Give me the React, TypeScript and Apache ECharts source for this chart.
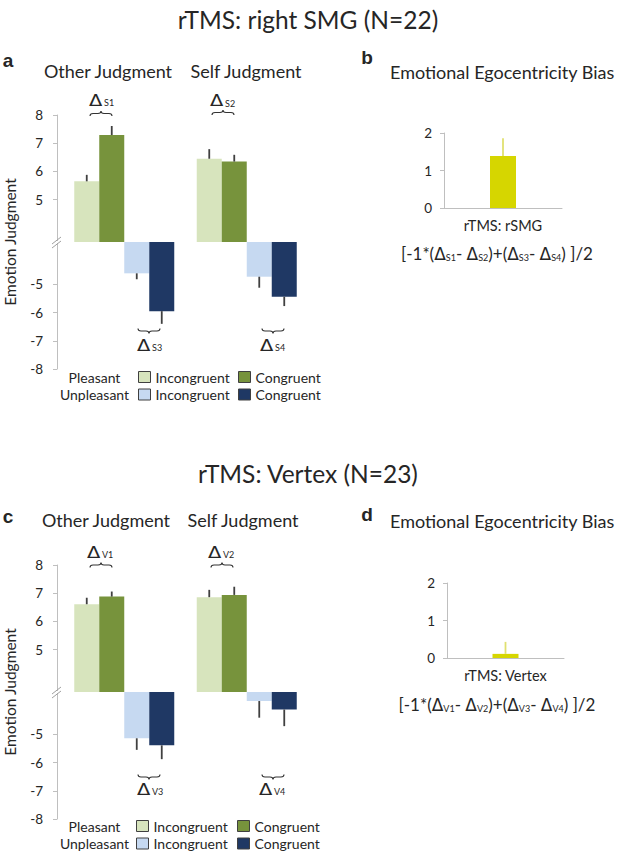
import React, { useEffect, useRef } from 'react';
import * as echarts from 'echarts';

// ---------- data ----------
const judgments = ['Other Judgment', 'Self Judgment'];
const conditions = ['Pleasant Incongruent', 'Pleasant Congruent', 'Unpleasant Incongruent', 'Unpleasant Congruent'];

// panel a: rTMS right SMG (N=22)
const smgPleasantIncongruent = [5.65, 6.45];
const smgPleasantCongruent = [7.29, 6.35];
const smgUnpleasantIncongruent = [-4.61, -4.73];
const smgUnpleasantCongruent = [-5.95, -5.44];
const smgPleasantIncongruentErr = [0.23, 0.34];
const smgPleasantCongruentErr = [0.32, 0.24];
const smgUnpleasantIncongruentErr = [0.21, 0.39];
const smgUnpleasantCongruentErr = [0.45, 0.33];

// panel c: rTMS Vertex (N=23)
const vtxPleasantIncongruent = [6.61, 6.86];
const vtxPleasantCongruent = [6.88, 6.94];
const vtxUnpleasantIncongruent = [-5.14, -3.82];
const vtxUnpleasantCongruent = [-5.39, -4.12];
const vtxPleasantIncongruentErr = [0.23, 0.26];
const vtxPleasantCongruentErr = [0.18, 0.29];
const vtxUnpleasantIncongruentErr = [0.41, 0.59];
const vtxUnpleasantCongruentErr = [0.49, 0.59];

// panels b / d: emotional egocentricity bias
const biasSmgCategory = ['rTMS: rSMG'];
const biasSmg = [1.39];
const biasSmgErr = [0.47];
const biasVtxCategory = ['rTMS: Vertex'];
const biasVtx = [0.11];
const biasVtxErr = [0.32];

// tick labels
const posTicks = [5, 6, 7, 8];
const negTicks = [-5, -6, -7, -8];
const biasTicks = [0, 1, 2];

// ---------- helpers ----------
const BREAK = 3.5; // axis is broken between -BREAK and +BREAK
const tf = (v: number) => (v > 0 ? v - BREAK : v + BREAK);
const untf = (v: number) => Math.round(v > 0 ? v + BREAK : v - BREAK);

const FONT = 'Lato, "Open Sans", sans-serif';
const TEXT = '#262626';
const AXIS = '#bfbfbf';
const ERR = '#404040';
const COLORS = ['#d7e4bd', '#77933c', '#c6d9f1', '#1f3864'];
const YELLOW = '#d6d600';
const YELLOW_ERR = '#e0e070';

const braceUpD = 'M0 5 Q0 2.5 3 2.5 L8 2.5 Q11 2.5 11 0 Q11 2.5 14 2.5 L19 2.5 Q22 2.5 22 5';
const braceDownD = 'M0 0 Q0 2.5 3 2.5 L8 2.5 Q11 2.5 11 5 Q11 2.5 14 2.5 L19 2.5 Q22 2.5 22 0';
echarts.graphic.registerShape('braceUp', echarts.graphic.extendPath(braceUpD, {}));
echarts.graphic.registerShape('braceDown', echarts.graphic.extendPath(braceDownD, {}));

function txt(x: number, y: number, text: string, size: number, align = 'left', extra: any = {}) {
  return {
    type: 'text', x, y, z: 20,
    style: {
      text, fontFamily: FONT, fontSize: size, fill: TEXT,
      align, textAlign: align, verticalAlign: 'middle', textVerticalAlign: 'middle',
      ...extra,
    },
  };
}

function delta(x: number, yc: number, sub: string) {
  return [
    {
      type: 'text', x, y: yc, scaleX: 1.3, z: 20,
      style: { text: 'Δ', fontFamily: 'DejaVu Sans', fontSize: 15, fill: TEXT, align: 'left', textAlign: 'left', verticalAlign: 'middle', textVerticalAlign: 'middle' },
    },
    txt(x + 15, yc + 2, sub, 9),
  ];
}

function brace(kind: 'braceUp' | 'braceDown', x: number, y: number) {
  return { type: kind, x, y, z: 20, style: { fill: 'none', stroke: '#333', lineWidth: 1.1 } };
}

function breakMark(y: number) {
  return [
    { type: 'rect', z: 30, shape: { x: 54, y: y - 1, width: 5, height: 2 }, style: { fill: '#fff' } },
    { type: 'line', z: 31, shape: { x1: 52, y1: y + 2, x2: 61, y2: y - 5 }, style: { stroke: '#a0a0a0', lineWidth: 1 } },
    { type: 'line', z: 31, shape: { x1: 52, y1: y + 6, x2: 61, y2: y - 1 }, style: { stroke: '#a0a0a0', lineWidth: 1 } },
  ];
}

function formula(cx: number, y: number, L: string) {
  const t = `{n|[-1*(}{d|Δ}{s|${L}1}{n|- }{d|Δ}{s|${L}2}{n|)+(}{d|Δ}{s|${L}3}{n|- }{d|Δ}{s|${L}4}{n|) ]/2}`;
  return {
    type: 'text', x: cx, y, z: 20,
    style: {
      text: t, align: 'center', textAlign: 'center', verticalAlign: 'middle', textVerticalAlign: 'middle',
      rich: {
        n: { fontFamily: FONT, fontSize: 17, fill: TEXT, verticalAlign: 'bottom', lineHeight: 20 },
        d: { fontFamily: 'DejaVu Sans', fontSize: 17, fill: TEXT, verticalAlign: 'bottom', lineHeight: 20 },
        s: { fontFamily: FONT, fontSize: 9, fill: TEXT, verticalAlign: 'bottom', lineHeight: 16 },
      },
    },
  };
}

function brokenSeries(prefix: string, gi: number, vals: number[][], errs: number[][]) {
  const out: any[] = [];
  vals.forEach((arr, i) => {
    out.push({
      type: 'bar', name: `${prefix} ${conditions[i]}`, xAxisIndex: gi, yAxisIndex: gi,
      barWidth: 25, barGap: '0%', itemStyle: { color: COLORS[i] },
      data: arr.map(tf),
    });
  });
  vals.forEach((arr, i) => {
    const offset = (i - 1.5) * 25;
    out.push({
      type: 'custom', name: `${prefix} err ${i}`, xAxisIndex: gi, yAxisIndex: gi, silent: true, z: 3,
      data: arr.map((v, j) => [j, tf(v), tf(v > 0 ? v + errs[i][j] : v - errs[i][j])]),
      encode: { x: 0, y: [1, 2] },
      renderItem: (params: any, api: any) => {
        const a = api.coord([api.value(0), api.value(1)]);
        const b = api.coord([api.value(0), api.value(2)]);
        return { type: 'line', shape: { x1: a[0] + offset, y1: a[1], x2: a[0] + offset, y2: b[1] }, style: { stroke: ERR, lineWidth: 1.8 } };
      },
    });
  });
  return out;
}

function biasSeries(name: string, gi: number, vals: number[], errs: number[]) {
  return [
    { type: 'bar', name, xAxisIndex: gi, yAxisIndex: gi, barWidth: 26, itemStyle: { color: YELLOW }, data: vals },
    {
      type: 'custom', name: name + ' err', xAxisIndex: gi, yAxisIndex: gi, silent: true, z: 3,
      data: vals.map((v, j) => [j, v, v + errs[j]]),
      encode: { x: 0, y: [1, 2] },
      renderItem: (params: any, api: any) => {
        const a = api.coord([api.value(0), api.value(1)]);
        const b = api.coord([api.value(0), api.value(2)]);
        return { type: 'line', shape: { x1: a[0], y1: a[1], x2: a[0], y2: b[1] }, style: { stroke: YELLOW_ERR, lineWidth: 1.8 } };
      },
    },
  ];
}

const brokenTickVals = [...posTicks, ...negTicks].map(tf);

function brokenYAxis(gi: number) {
  return {
    type: 'value', gridIndex: gi, min: -(8 - BREAK), max: 8 - BREAK, offset: 6,
    axisLine: { show: true, lineStyle: { color: AXIS, width: 1 } },
    axisTick: { show: true, length: 4, lineStyle: { color: AXIS }, customValues: brokenTickVals },
    axisLabel: { show: true, margin: 14, fontFamily: FONT, fontSize: 13.5, color: TEXT, customValues: brokenTickVals, formatter: (v: number) => String(untf(v)) },
    splitLine: { show: false },
  };
}

function catXAxis(gi: number) {
  return { type: 'category', gridIndex: gi, data: judgments, axisLine: { show: false }, axisTick: { show: false }, axisLabel: { show: false }, splitLine: { show: false } };
}

function biasYAxis(gi: number) {
  return {
    type: 'value', gridIndex: gi, min: biasTicks[0], max: biasTicks[biasTicks.length - 1], interval: 1,
    axisLine: { show: true, lineStyle: { color: AXIS } },
    axisTick: { show: true, length: 4, lineStyle: { color: AXIS } },
    axisLabel: { margin: 12, fontFamily: FONT, fontSize: 13.5, color: TEXT },
    splitLine: { show: false },
  };
}

function biasXAxis(gi: number, cats: string[]) {
  return {
    type: 'category', gridIndex: gi, data: cats,
    axisLine: { show: true, lineStyle: { color: AXIS } },
    axisTick: { show: false },
    axisLabel: { margin: 10, fontFamily: FONT, fontSize: 14.5, color: TEXT },
  };
}

function legendItem(name: string, left: number, top: number) {
  return {
    data: [name], left, top, orient: 'horizontal', padding: 0, itemWidth: 12, itemHeight: 11, itemGap: 0,
    icon: 'rect', selectedMode: false,
    itemStyle: { borderColor: '#404040', borderWidth: 1 },
    textStyle: { fontFamily: FONT, fontSize: 14, color: TEXT, lineHeight: 16 },
    formatter: (n: string) => n.split(' ').pop(),
  };
}

export default function App() {
  const ref = useRef<HTMLDivElement>(null);
  useEffect(() => {
    if (!ref.current) return;
    const chart = echarts.init(ref.current, null, { renderer: 'svg' });
    const smgVals = [smgPleasantIncongruent, smgPleasantCongruent, smgUnpleasantIncongruent, smgUnpleasantCongruent];
    const smgErrs = [smgPleasantIncongruentErr, smgPleasantCongruentErr, smgUnpleasantIncongruentErr, smgUnpleasantCongruentErr];
    const vtxVals = [vtxPleasantIncongruent, vtxPleasantCongruent, vtxUnpleasantIncongruent, vtxUnpleasantCongruent];
    const vtxErrs = [vtxPleasantIncongruentErr, vtxPleasantCongruentErr, vtxUnpleasantIncongruentErr, vtxUnpleasantCongruentErr];

    const graphics: any[] = [
      // titles
      txt(308, 19, 'rTMS: right SMG (N=22)', 24.5, 'center'),
      txt(308, 473, 'rTMS: Vertex (N=23)', 24.5, 'center'),
      // panel letters
      txt(8, 60, 'a', 19, 'center', { fontFamily: 'Liberation Sans', fontWeight: 'bold' }),
      txt(367, 57, 'b', 19, 'center', { fontFamily: 'Liberation Sans', fontWeight: 'bold' }),
      txt(8, 516, 'c', 19, 'center', { fontFamily: 'Liberation Sans', fontWeight: 'bold' }),
      txt(367, 514, 'd', 19, 'center', { fontFamily: 'Liberation Sans', fontWeight: 'bold' }),
      // subtitles
      txt(108, 71, 'Other Judgment', 18, 'center'),
      txt(246, 71, 'Self Judgment', 18, 'center'),
      txt(106, 520, 'Other Judgment', 18, 'center'),
      txt(243, 520, 'Self Judgment', 18, 'center'),
      txt(390, 72, 'Emotional Egocentricity Bias', 18, 'left'),
      txt(390, 521, 'Emotional Egocentricity Bias', 18, 'left'),
      // axis names
      { ...txt(10, 242, 'Emotion Judgment', 15.5, 'center'), rotation: Math.PI / 2 },
      { ...txt(10, 692, 'Emotion Judgment', 15.5, 'center'), rotation: Math.PI / 2 },
      // legend row labels
      txt(94.5, 377, 'Pleasant', 14, 'center'),
      txt(94.5, 394.5, 'Unpleasant', 14, 'center'),
      txt(94.5, 826, 'Pleasant', 14, 'center'),
      txt(94.5, 843.5, 'Unpleasant', 14, 'center'),
      // formulas
      formula(497, 252, 'S'),
      formula(497, 703, 'V'),
      // deltas & braces
      ...delta(89, 100.5, 'S1'), brace('braceUp', 90, 111),
      ...delta(210, 101, 'S2'), brace('braceUp', 212, 110),
      ...delta(137, 345.5, 'S3'), brace('braceDown', 138, 328.5),
      ...delta(260, 345.5, 'S4'), brace('braceDown', 262, 328.5),
      ...delta(87, 552.5, 'V1'), brace('braceUp', 90, 562.5),
      ...delta(208, 552.5, 'V2'), brace('braceUp', 211, 562.5),
      ...delta(137, 789.5, 'V3'), brace('braceDown', 138, 774.5),
      ...delta(259, 789.5, 'V4'), brace('braceDown', 262, 774.5),
      // axis breaks
      ...breakMark(242),
      ...breakMark(692),
    ];

    chart.setOption({
      animation: false,
      textStyle: { fontFamily: FONT },
      grid: [
        { left: 63, top: 115, width: 245, height: 254, outerBoundsMode: 'none', containLabel: false },
        { left: 444, top: 133, width: 118, height: 75, outerBoundsMode: 'none', containLabel: false },
        { left: 63, top: 565, width: 245, height: 254, outerBoundsMode: 'none', containLabel: false },
        { left: 447, top: 583, width: 117, height: 75, outerBoundsMode: 'none', containLabel: false },
      ],
      xAxis: [catXAxis(0), biasXAxis(1, biasSmgCategory), catXAxis(2), biasXAxis(3, biasVtxCategory)],
      yAxis: [brokenYAxis(0), biasYAxis(1), brokenYAxis(2), biasYAxis(3)],
      legend: [
        legendItem(`rSMG ${conditions[0]}`, 138, 369),
        legendItem(`rSMG ${conditions[1]}`, 238, 369),
        legendItem(`rSMG ${conditions[2]}`, 138, 386.5),
        legendItem(`rSMG ${conditions[3]}`, 238, 386.5),
        legendItem(`Vertex ${conditions[0]}`, 136, 818),
        legendItem(`Vertex ${conditions[1]}`, 237, 818),
        legendItem(`Vertex ${conditions[2]}`, 136, 835.5),
        legendItem(`Vertex ${conditions[3]}`, 237, 835.5),
      ],
      series: [
        ...brokenSeries('rSMG', 0, smgVals, smgErrs),
        ...biasSeries('Bias rSMG', 1, biasSmg, biasSmgErr),
        ...brokenSeries('Vertex', 2, vtxVals, vtxErrs),
        ...biasSeries('Bias Vertex', 3, biasVtx, biasVtxErr),
      ],
      graphic: { elements: graphics },
    });
    return () => chart.dispose();
  }, []);
  return <div ref={ref} style={{ position: 'fixed', left: 0, top: 0, width: 626, height: 853, background: '#fff' }} />;
}
